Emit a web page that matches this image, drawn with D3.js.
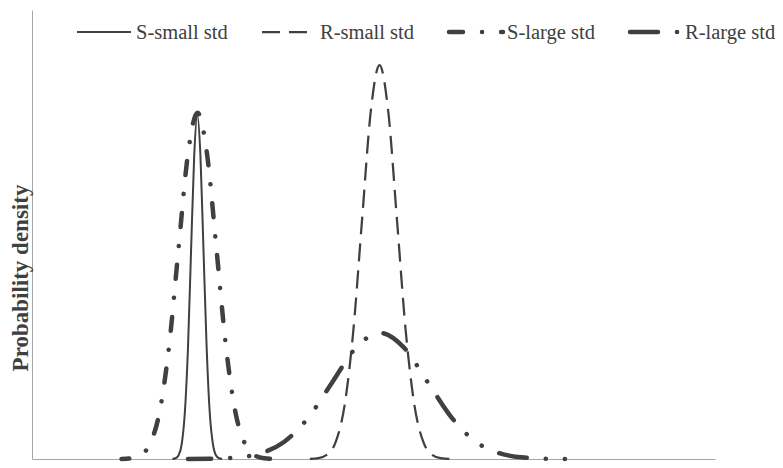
<!DOCTYPE html>
<html><head><meta charset="utf-8">
<script src="https://cdn.jsdelivr.net/npm/d3@7"></script>
<style>body{margin:0;background:#fff}</style>
</head><body><svg id="c" width="783" height="468"></svg>
<script>
// ---- data ----
const seriesNames = ["S-small std", "R-small std", "S-large std", "R-large std"];

const sSmallX = [20.56,21.02,21.47,21.93,22.38,22.84,23.29,23.75,24.20,24.66,25.11,25.57,26.02,26.48,26.93,27.39,27.84];
const sSmallY = [0.0002,0.0017,0.0085,0.034,0.104,0.249,0.465,0.676,0.766,0.676,0.465,0.249,0.104,0.034,0.0085,0.0017,0.0002];

const rSmallX = [40.64,41.92,43.20,44.48,45.76,47.04,48.32,49.60,50.88,52.16,53.44,54.72,56.00,57.28,58.56,59.84,61.12];
const rSmallY = [0.0003,0.0019,0.0097,0.0385,0.119,0.285,0.532,0.774,0.877,0.774,0.532,0.285,0.119,0.0385,0.0097,0.0019,0.0003];

const sLargeX = [13.11,14.50,15.89,17.28,18.67,20.06,21.45,22.84,24.23,25.62,27.01,28.40,29.79,31.18,32.57,33.96,35.35];
const sLargeY = [0.0002,0.0017,0.0086,0.034,0.104,0.250,0.468,0.680,0.771,0.680,0.468,0.250,0.104,0.034,0.0086,0.0017,0.0002];

const rLargeX = [22.83,26.35,29.86,33.38,36.89,40.41,43.92,47.44,50.95,54.47,57.98,61.50,65.01,68.53,72.04,75.56,79.07];
const rLargeY = [0.0001,0.0006,0.0031,0.0123,0.0380,0.0912,0.170,0.248,0.281,0.248,0.170,0.0912,0.0380,0.0123,0.0031,0.0006,0.0001];

const xDomain = [0, 100];
const yDomain = [0, 1];
const yTitle = "Probability density";

// ---- layout / style ----
const svg = d3.select("#c");
const plot = {left: 32, right: 715, top: 10, bottom: 459};
const ink = "#404040";
const font = "'Liberation Serif','Times New Roman',serif";

const x = d3.scaleLinear().domain(xDomain).range([plot.left, plot.right]);
const y = d3.scaleLinear().domain(yDomain).range([plot.bottom, plot.top]);

// dash phase anchor: {atX: data x where the pattern position "pos" should fall}
const styles = [
  {w: 2,    dash: null,                  cap: "butt"},
  {w: 2.25, dash: [18,9],                cap: "butt",  anchor: {atX: 50.88, pos: 9}},
  {w: 4.5,  dash: [14,19,0.1,19],        cap: "round", anchor: {atX: 24.23, pos: 12}},
  {w: 4.5,  dash: [28,19,0.1,19,0.1,19], cap: "round", anchor: {atX: 51.45, pos: 0}}
];

const series = [
  {xs: sSmallX, ys: sSmallY},
  {xs: rSmallX, ys: rSmallY},
  {xs: sLargeX, ys: sLargeY},
  {xs: rLargeX, ys: rLargeY}
];

// axes (no ticks)
svg.append("g").attr("transform", `translate(0,${plot.bottom})`)
  .call(d3.axisBottom(x).ticks(0).tickSize(0).tickFormat(""))
  .call(g => g.select(".domain").attr("stroke", "#a6a6a6").attr("stroke-width", 1));
svg.append("g").attr("transform", `translate(${plot.left},0)`)
  .call(d3.axisLeft(y).ticks(0).tickSize(0).tickFormat(""))
  .call(g => g.select(".domain").attr("stroke", "#a6a6a6").attr("stroke-width", 1));

function lengthAtX(node, px) {
  let lo = 0, hi = node.getTotalLength();
  for (let k = 0; k < 40; k++) {
    const mid = (lo + hi) / 2;
    if (node.getPointAtLength(mid).x < px) lo = mid; else hi = mid;
  }
  return (lo + hi) / 2;
}

// curves
const line = d3.line().curve(d3.curveMonotoneX);
series.forEach((s, i) => {
  const pts = s.xs.map((v, j) => [x(v), y(s.ys[j])]);
  const st = styles[i];
  const p = svg.append("path")
    .attr("d", line(pts))
    .attr("fill", "none")
    .attr("stroke", ink)
    .attr("stroke-width", st.w)
    .attr("stroke-linecap", st.cap)
    .attr("stroke-linejoin", "round");
  if (st.dash) {
    const period = d3.sum(st.dash);
    const L = lengthAtX(p.node(), x(st.anchor.atX));
    const off = (((st.anchor.pos - L) % period) + period) % period;
    p.attr("stroke-dasharray", st.dash.join(","))
     .attr("stroke-dashoffset", off);
  }
});

// y-axis title
svg.append("text")
  .attr("transform", `translate(28,278) rotate(-90)`)
  .attr("text-anchor", "middle")
  .attr("font-family", font)
  .attr("font-weight", "bold")
  .attr("font-size", 23)
  .attr("fill", ink)
  .text(yTitle);

// legend
const legX = [77, 262, 449, 630];
const legY = 32;
const legTextX = [136, 320, 507, 685];
const lg = svg.append("g");
seriesNames.forEach((name, i) => {
  const st = styles[i];
  lg.append("line")
    .attr("x1", legX[i]).attr("x2", legX[i] + 54)
    .attr("y1", legY).attr("y2", legY)
    .attr("stroke", ink)
    .attr("stroke-width", st.w)
    .attr("stroke-linecap", st.cap)
    .attr("stroke-dasharray", st.dash ? st.dash.join(",") : null);
  lg.append("text")
    .attr("x", legTextX[i]).attr("y", legY + 6.5)
    .attr("font-family", font)
    .attr("font-size", 20.5)
    .attr("fill", ink)
    .text(name);
});
</script>
</body></html>
